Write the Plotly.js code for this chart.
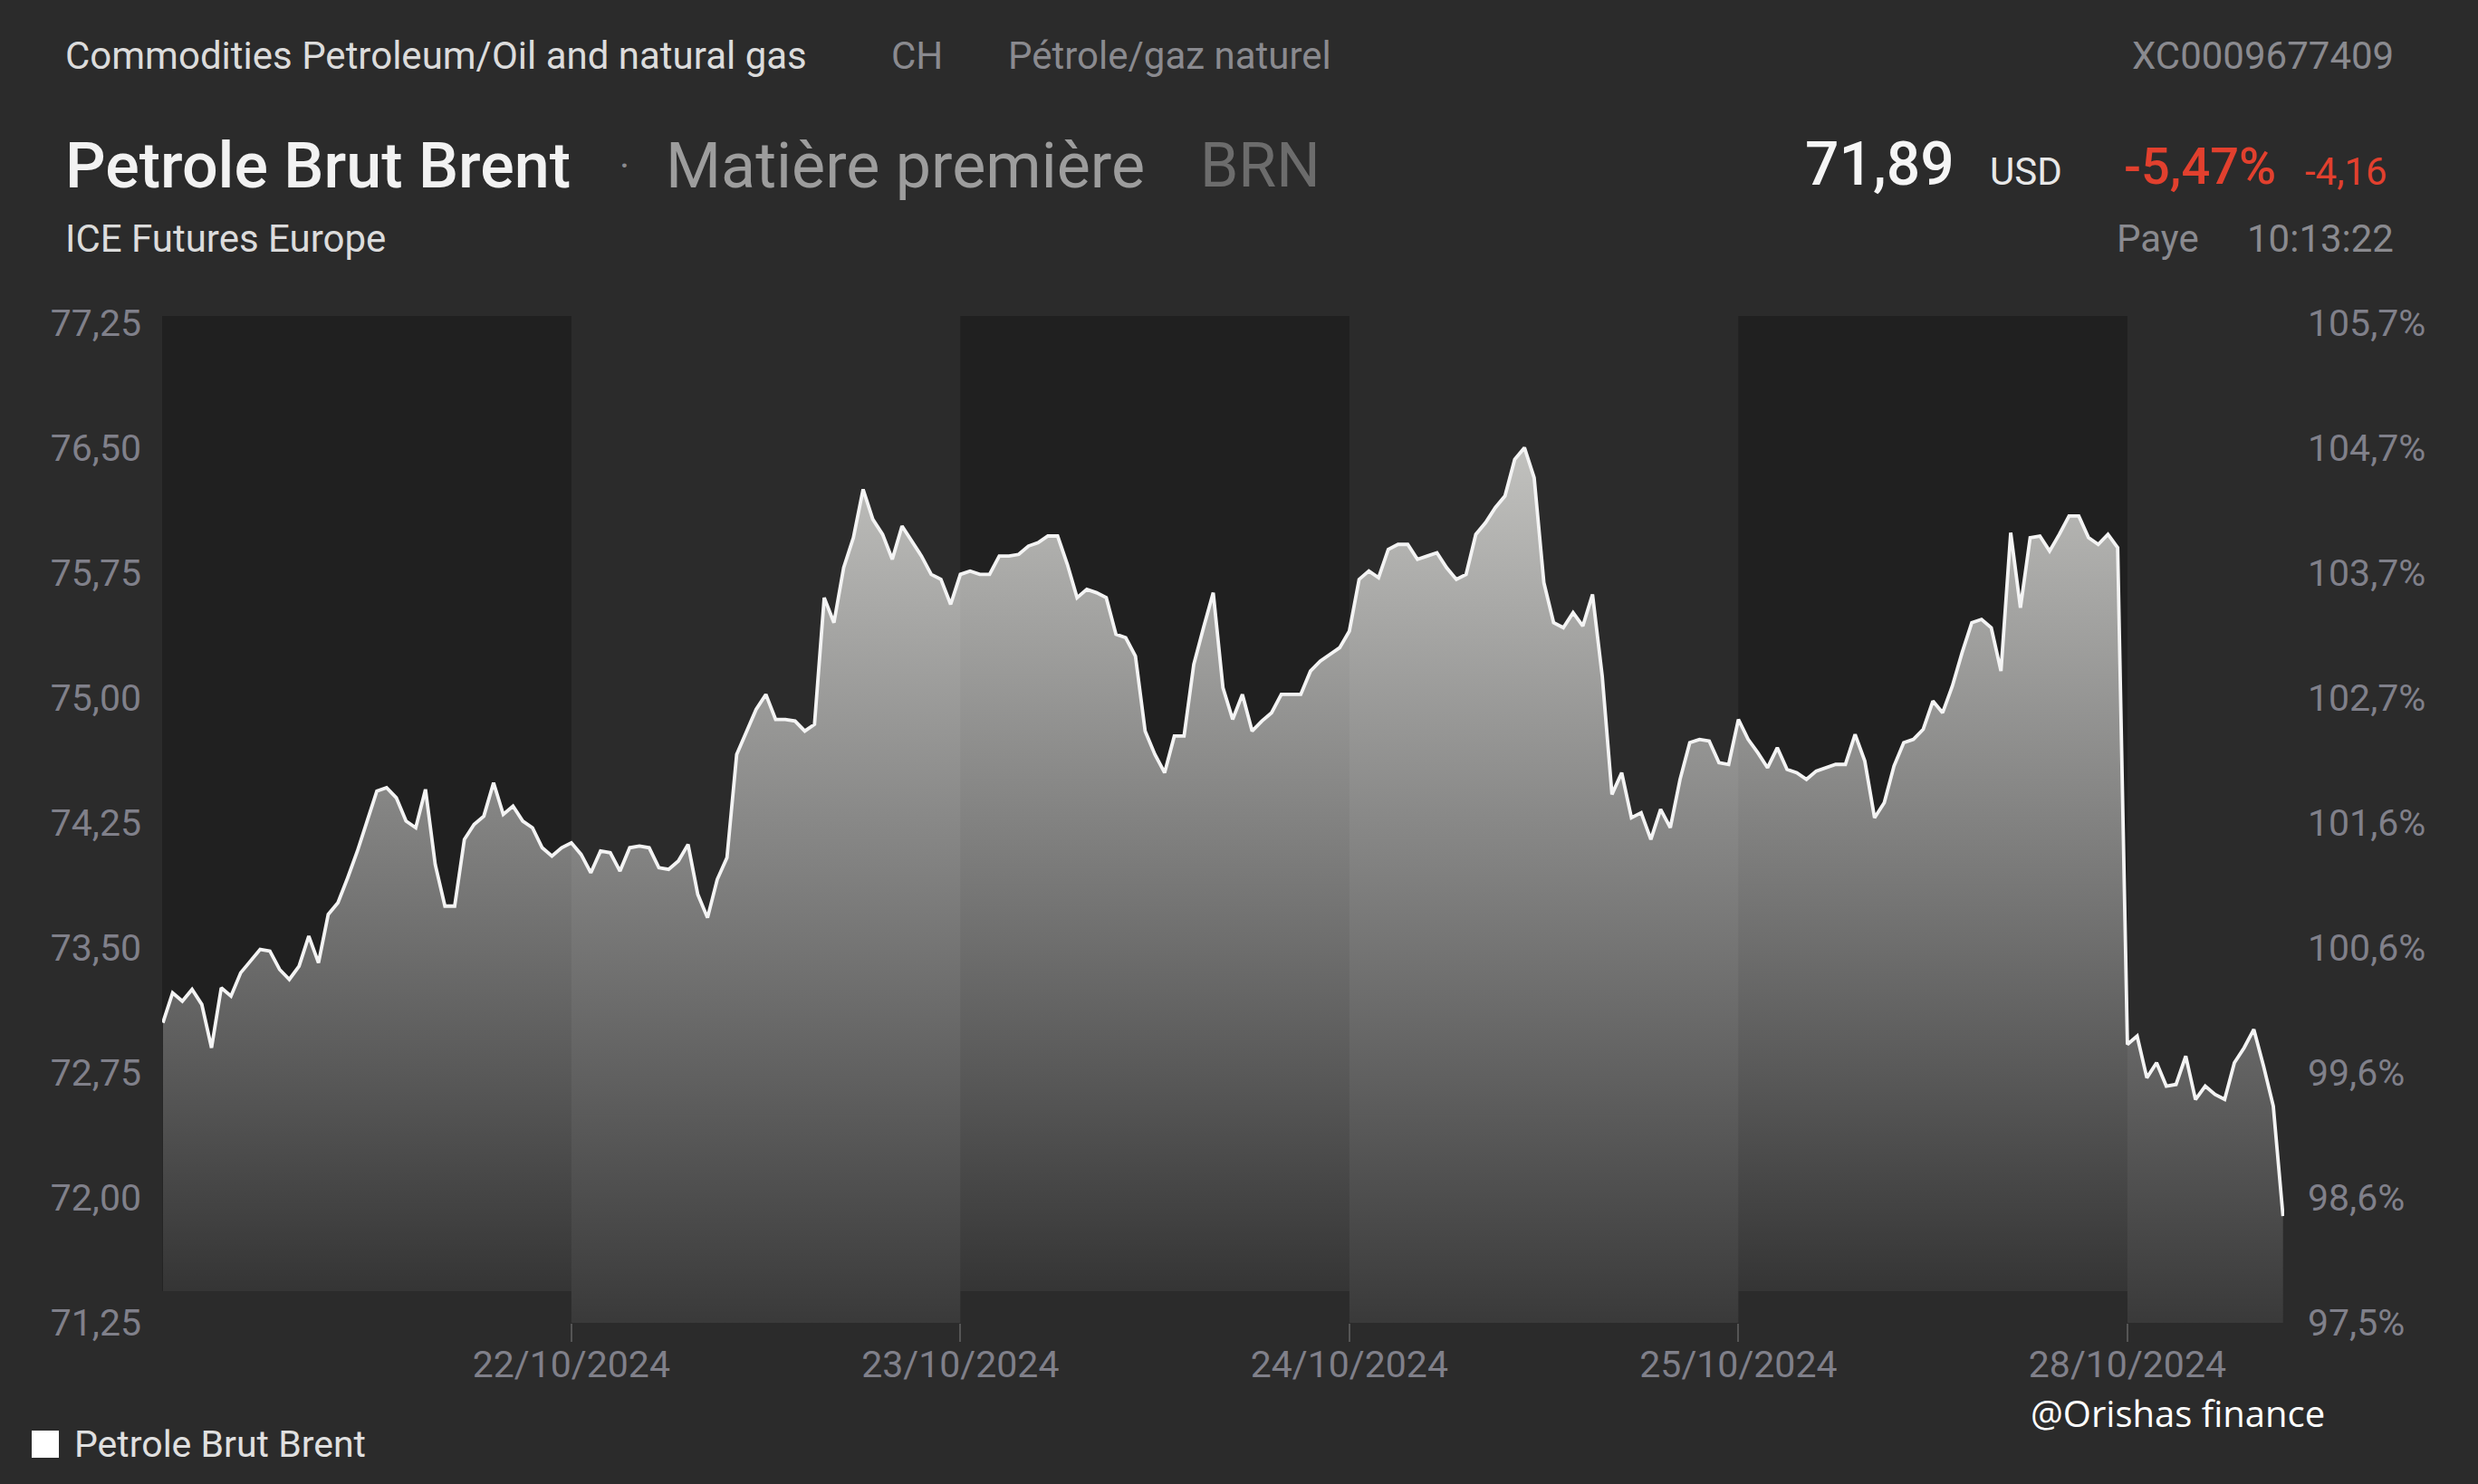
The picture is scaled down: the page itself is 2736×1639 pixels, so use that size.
<!DOCTYPE html>
<html>
<head>
<meta charset="utf-8">
<script src="https://cdn.plot.ly/plotly-3.0.1.min.js"></script>
<style>
  html, body { margin: 0; padding: 0; background: #2b2b2b; }
  #chart { width: 2736px; height: 1639px; }
</style>
</head>
<body>
<div id="chart"></div>
<script>
// ---- Data ----
// Trading sessions shown on the x axis
const days = ['21/10/2024', '22/10/2024', '23/10/2024', '24/10/2024', '25/10/2024', '28/10/2024'];
// Prices (USD), sampled at even steps of 1/40 of a session.
// 21/10 begins two steps before the regular session open.
const p21 = [73.05, 73.23, 73.18, 73.25, 73.16, 72.90, 73.26, 73.21, 73.35, 73.42,
             73.49, 73.48, 73.37, 73.31, 73.39, 73.57, 73.41, 73.70, 73.77, 73.92,
             74.08, 74.26, 74.44, 74.46, 74.40, 74.26, 74.22, 74.45, 74.00, 73.75,
             73.75, 74.15, 74.24, 74.29, 74.49, 74.30, 74.35, 74.26, 74.22, 74.10,
             74.05, 74.10];
const p22 = [74.13, 74.06, 73.95, 74.08, 74.07, 73.96, 74.10, 74.11, 74.10, 73.98,
             73.97, 74.02, 74.12, 73.82, 73.68, 73.91, 74.04, 74.66, 74.80, 74.93,
             75.02, 74.87, 74.87, 74.86, 74.80, 74.84, 75.60, 75.45, 75.78, 75.96,
             76.25, 76.07, 75.98, 75.83, 76.03, 75.94, 75.85, 75.74, 75.71, 75.56];
const p23 = [75.74, 75.76, 75.74, 75.74, 75.85, 75.85, 75.86, 75.91, 75.93, 75.97,
             75.97, 75.80, 75.60, 75.65, 75.63, 75.60, 75.38, 75.36, 75.25, 74.80,
             74.66, 74.55, 74.77, 74.77, 75.20, 75.42, 75.63, 75.06, 74.87, 75.02,
             74.80, 74.86, 74.91, 75.02, 75.02, 75.02, 75.16, 75.22, 75.26, 75.30];
const p24 = [75.40, 75.71, 75.76, 75.72, 75.89, 75.92, 75.92, 75.83, 75.85, 75.87,
             75.78, 75.71, 75.74, 75.98, 76.05, 76.14, 76.21, 76.43, 76.50, 76.32,
             75.69, 75.45, 75.42, 75.51, 75.43, 75.62, 75.13, 74.42, 74.55, 74.28,
             74.31, 74.15, 74.33, 74.22, 74.51, 74.73, 74.75, 74.74, 74.61, 74.60];
const p25 = [74.87, 74.75, 74.67, 74.58, 74.70, 74.57, 74.55, 74.51, 74.56, 74.58,
             74.60, 74.60, 74.78, 74.62, 74.28, 74.37, 74.59, 74.73, 74.75, 74.81,
             74.98, 74.91, 75.07, 75.27, 75.45, 75.47, 75.42, 75.16, 75.99, 75.54,
             75.96, 75.97, 75.88, 75.98, 76.09, 76.09, 75.96, 75.92, 75.98, 75.90];
const p28 = [72.92, 72.97, 72.72, 72.81, 72.67, 72.68, 72.85, 72.59, 72.67, 72.62,
             72.59, 72.81, 72.90, 73.01, 72.79, 72.55, 71.89];
// Left axis price ticks
const priceTicks = [71.25, 72.00, 72.75, 73.50, 74.25, 75.00, 75.75, 76.50, 77.25];
const seriesName = 'Petrole Brut Brent';

// ---- Build x (session units) ----
const STEPS = 40;
const sessions = [p21, p22, p23, p24, p25, p28];
const preSteps = [2, 0, 0, 0, 0, 0];
const xs = [], ys = [];
sessions.forEach((arr, d) => {
  arr.forEach((v, k) => { xs.push(d + (k - preSteps[d]) / STEPS); ys.push(v); });
});
const base = ys[0];
const pctTicks = priceTicks.map(v => (v / base * 100).toFixed(1).replace('.', ',') + '%');

// ---- Pixel helpers for page furniture ----
const L = 179, R = 2522, T = 349, B = 1461;
const PX = X => (X - L) / (R - L);
const PY = Y => (B - Y) / (B - T);

const FONT = 'Roboto, "Open Sans", sans-serif';
const grey = '#8a8a8f';
function ann(text, X, Y, size, color, xanchor, extra) {
  return Object.assign({
    text: text, x: PX(X), y: PY(Y), xref: 'paper', yref: 'paper',
    xanchor: xanchor || 'left', yanchor: 'middle', showarrow: false,
    font: { family: FONT, size: size, color: color }
  }, extra || {});
}

const annotations = [
  ann('Commodities Petroleum/Oil and natural gas', 70, 61, 42, '#dcdcdc'),
  ann('CH', 982, 61, 42, grey),
  ann('Pétrole/gaz naturel', 1111, 61, 42, grey),
  ann('XC0009677409', 2645, 61, 42, grey, 'right'),
  ann(seriesName, 70, 183, 70, '#f2f2f2', 'left', { font: { family: FONT, size: 70, color: '#f2f2f2', weight: 500 } }),
  ann('·', 689, 183, 42, grey, 'center'),
  ann('Matière première', 733, 183, 70, '#9d9d9d'),
  ann('BRN', 1323, 183, 68, '#6c6c6c'),
  ann('ICE Futures Europe', 70, 263, 42, '#dcdcdc'),
  ann('71,89', 2160, 182, 66, '#f5f5f5', 'right', { font: { family: FONT, size: 66, color: '#f5f5f5', weight: 500 } }),
  ann('USD', 2195, 190, 42, '#e8e8e8'),
  ann('-5,47%', 2515, 184, 56, '#e2402e', 'right', { font: { family: FONT, size: 56, color: '#e2402e', weight: 500 } }),
  ann('-4,16', 2638, 190, 42, '#e2402e', 'right'),
  ann('Paye', 2335, 263, 42, grey),
  ann('10:13:22', 2645, 263, 42, grey, 'right'),
  ann(seriesName, 80, 1595, 41, '#e0e0e0'),
  ann('@Orishas finance', 2240, 1560, 40, '#ffffff', 'left', { font: { family: '"Open Sans", sans-serif', size: 40, color: '#ffffff' } })
];

// Session shading bands (alternate sessions darker)
const Y_TOP = 77.29, Y_FILLCUT = 71.44, Y_BOT = 71.25;
const shapes = [];
[[-0.052, 1], [2, 3], [4, 5]].forEach(([a, b]) => {
  shapes.push({ type: 'rect', xref: 'x', yref: 'y', x0: a, x1: b, y0: Y_FILLCUT, y1: Y_TOP,
    fillcolor: '#202020', line: { width: 0 }, layer: 'below' });
  shapes.push({ type: 'rect', xref: 'x', yref: 'y', x0: a, x1: b, y0: Y_BOT, y1: Y_FILLCUT,
    fillcolor: '#2b2b2b', line: { width: 0 }, layer: 'above' });
});
// legend swatch
shapes.push({ type: 'rect', xref: 'paper', yref: 'paper', x0: PX(35), x1: PX(65), y0: PY(1610), y1: PY(1580),
  fillcolor: '#ffffff', line: { width: 0 }, layer: 'above' });

const tickFont = { family: FONT, size: 41, color: '#80808a' };

const traces = [
  {
    x: xs, y: ys, type: 'scatter', mode: 'lines', name: seriesName,
    line: { color: '#f4f4f4', width: 3.8 },
    fill: 'tozeroy',
    fillgradient: {
      type: 'vertical', start: 71.25, stop: 76.55,
      colorscale: [[0, 'rgba(255,255,255,0.07)'], [1, 'rgba(250,250,246,0.73)']]
    },
    hoverinfo: 'skip', showlegend: false
  },
  {
    x: xs, y: ys, type: 'scatter', mode: 'lines', yaxis: 'y2',
    line: { width: 0, color: 'rgba(0,0,0,0)' }, hoverinfo: 'skip', showlegend: false
  }
];

const layout = {
  width: 2736, height: 1639,
  paper_bgcolor: '#2b2b2b', plot_bgcolor: '#2b2b2b',
  margin: { l: L, r: 2736 - R, t: T, b: 1639 - B, pad: 0 },
  separators: ',.',
  showlegend: false,
  font: { family: FONT, color: '#80808a' },
  xaxis: {
    range: [-0.052, 5.403], tickvals: [1, 2, 3, 4, 5], ticktext: days.slice(1),
    ticks: 'outside', ticklen: 20, tickwidth: 2, tickcolor: '#555555',
    showgrid: false, zeroline: false, showline: false,
    tickfont: tickFont, ticklabelstandoff: -10
  },
  yaxis: {
    range: [Y_BOT, Y_TOP], tickvals: priceTicks, tickformat: '.2f',
    showgrid: false, zeroline: false, showline: false, ticks: '',
    tickfont: tickFont, ticklabelstandoff: 22
  },
  yaxis2: {
    overlaying: 'y', side: 'right', range: [Y_BOT, Y_TOP],
    tickvals: priceTicks, ticktext: pctTicks,
    showgrid: false, zeroline: false, showline: false, ticks: '',
    tickfont: tickFont, ticklabelstandoff: 25
  },
  shapes: shapes,
  annotations: annotations
};

Plotly.newPlot('chart', traces, layout, { staticPlot: true, displayModeBar: false });
</script>
</body>
</html>
